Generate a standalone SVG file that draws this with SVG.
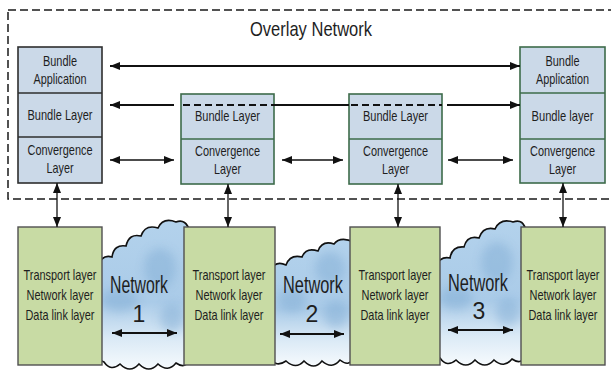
<svg xmlns="http://www.w3.org/2000/svg" width="611" height="371" viewBox="0 0 611 371">
  <style>
    .txt { font-family: "Liberation Sans", Arial, sans-serif; fill: #1e1e1e; text-anchor: middle; }
    .s13 { font-size: 15px; }
    .net { font-size: 23px; }
    .title { font-size: 21px; }
    .bundle { fill: #cbd9e8; stroke: #3d6b4a; stroke-width: 1.6; }
    .bundle.dark { stroke: #2e2e2e; }
    .sep { stroke: #3d6b4a; stroke-width: 1.6; }
    .sep.dark { stroke: #2e2e2e; }
    .host { fill: #c8dba4; stroke: #505050; stroke-width: 1.4; }
    .cloud { fill: url(#cloudFill); stroke: #111; stroke-width: 1.6; }
    .thick { stroke: #111; stroke-width: 2; fill: none; }
    .thin { stroke: #111; stroke-width: 1.3; fill: none; }
    .dash { stroke: #111; stroke-width: 2; stroke-dasharray: 7 4; fill: none; }
  </style>
  <defs>
    <marker id="head" viewBox="0 0 10 8" refX="10" refY="4" markerWidth="10" markerHeight="8" markerUnits="userSpaceOnUse" orient="auto-start-reverse">
      <path d="M0,0 L10,4 L0,8 z" fill="#111"/>
    </marker>
    <linearGradient id="cloudFill" x1="0" y1="0" x2="0" y2="1">
      <stop offset="0" stop-color="#b3d2ec"/>
      <stop offset="0.55" stop-color="#aacbe8"/>
      <stop offset="0.8" stop-color="#dbeaf6"/>
      <stop offset="1" stop-color="#f6fafd"/>
    </linearGradient>
    <filter id="soft" x="-50%" y="-50%" width="200%" height="200%">
      <feGaussianBlur stdDeviation="5"/>
    </filter>
    <clipPath id="c1"><path id="cloud1" d="M 98 266 Q 102 254 112 257 Q 114 244 126 246 Q 129 233 141 236 Q 145 224 158 228 Q 163 217 176 222 Q 186 218 190 232 L 190 358 Q 186 370 176 363 Q 168 373 158 364 Q 149 374 139 364 Q 130 374 120 364 Q 111 372 104 362 Q 96 360 98 350 Z"/></clipPath>
    <clipPath id="c2"><path id="cloud2" d="M 270 270 Q 276 260 286 265 Q 290 254 302 257 Q 306 247 318 251 Q 322 240 334 244 Q 340 236 354 242 L 354 356 Q 350 368 340 360 Q 332 370 322 361 Q 314 371 304 361 Q 296 370 286 361 Q 276 368 270 358 Z"/></clipPath>
    <clipPath id="c3"><path id="cloud3" d="M 436 266 Q 440 256 450 258 Q 452 246 464 247 Q 467 235 479 238 Q 483 226 495 229 Q 500 218 513 222 Q 524 218 526 232 L 526 354 Q 522 366 512 359 Q 504 369 494 360 Q 485 370 475 360 Q 466 370 456 360 Q 447 368 440 358 Q 434 356 436 346 Z"/></clipPath>
  </defs>

  <rect width="611" height="371" fill="#ffffff"/>

  <!-- network clouds -->
  <g id="network1">
    <use href="#cloud1" class="cloud"/>
    <g clip-path="url(#c1)" filter="url(#soft)" fill="#7eaad3" opacity="0.45">
      <ellipse cx="160" cy="268" rx="16" ry="20"/>
      <ellipse cx="120" cy="300" rx="18" ry="12"/>
      <ellipse cx="172" cy="318" rx="12" ry="14"/>
    </g>
    <text class="txt net" x="139" y="293" textLength="58" lengthAdjust="spacingAndGlyphs">Network</text>
    <text class="txt net" x="139" y="322">1</text>
  </g>
  <g id="network2">
    <use href="#cloud2" class="cloud"/>
    <g clip-path="url(#c2)" filter="url(#soft)" fill="#7eaad3" opacity="0.45">
      <ellipse cx="330" cy="268" rx="15" ry="16"/>
      <ellipse cx="292" cy="300" rx="14" ry="12"/>
      <ellipse cx="336" cy="314" rx="12" ry="14"/>
    </g>
    <text class="txt net" x="313" y="293" textLength="60" lengthAdjust="spacingAndGlyphs">Network</text>
    <text class="txt net" x="312" y="322">2</text>
  </g>
  <g id="network3">
    <use href="#cloud3" class="cloud"/>
    <g clip-path="url(#c3)" filter="url(#soft)" fill="#7eaad3" opacity="0.45">
      <ellipse cx="497" cy="262" rx="16" ry="20"/>
      <ellipse cx="456" cy="298" rx="16" ry="12"/>
      <ellipse cx="508" cy="312" rx="12" ry="14"/>
    </g>
    <text class="txt net" x="478" y="291" textLength="60" lengthAdjust="spacingAndGlyphs">Network</text>
    <text class="txt net" x="479" y="319">3</text>
  </g>

  <!-- underlay hosts -->
  <g id="host1">
    <rect class="host" x="18" y="227" width="84" height="138"/>
    <text class="txt s13" x="60" y="280" textLength="73" lengthAdjust="spacingAndGlyphs">Transport layer</text>
    <text class="txt s13" x="60" y="300" textLength="67" lengthAdjust="spacingAndGlyphs">Network layer</text>
    <text class="txt s13" x="60" y="320" textLength="69" lengthAdjust="spacingAndGlyphs">Data link layer</text>
  </g>
  <g id="host2">
    <rect class="host" x="184" y="227" width="91" height="138"/>
    <text class="txt s13" x="229" y="280" textLength="73" lengthAdjust="spacingAndGlyphs">Transport layer</text>
    <text class="txt s13" x="229" y="300" textLength="67" lengthAdjust="spacingAndGlyphs">Network layer</text>
    <text class="txt s13" x="229" y="320" textLength="69" lengthAdjust="spacingAndGlyphs">Data link layer</text>
  </g>
  <g id="host3">
    <rect class="host" x="350" y="227" width="90" height="138"/>
    <text class="txt s13" x="395" y="280" textLength="73" lengthAdjust="spacingAndGlyphs">Transport layer</text>
    <text class="txt s13" x="395" y="300" textLength="67" lengthAdjust="spacingAndGlyphs">Network layer</text>
    <text class="txt s13" x="395" y="320" textLength="69" lengthAdjust="spacingAndGlyphs">Data link layer</text>
  </g>
  <g id="host4">
    <rect class="host" x="521" y="227" width="84" height="138"/>
    <text class="txt s13" x="563" y="280" textLength="73" lengthAdjust="spacingAndGlyphs">Transport layer</text>
    <text class="txt s13" x="563" y="300" textLength="67" lengthAdjust="spacingAndGlyphs">Network layer</text>
    <text class="txt s13" x="563" y="320" textLength="69" lengthAdjust="spacingAndGlyphs">Data link layer</text>
  </g>

  <!-- overlay boundary -->
  <g id="overlay">
    <rect x="8" y="10" width="620" height="189" fill="none" stroke="#1a1a1a" stroke-width="1.5" stroke-dasharray="8 4"/>
    <text class="txt title" x="311" y="36" textLength="122" lengthAdjust="spacingAndGlyphs">Overlay Network</text>
  </g>

  <!-- bundle nodes -->
  <g id="source">
    <rect class="bundle dark" x="18" y="47" width="84" height="136"/>
    <line class="sep dark" x1="18" y1="93" x2="102" y2="93"/>
    <line class="sep dark" x1="18" y1="137" x2="102" y2="137"/>
    <text class="txt s13" x="60" y="66" textLength="34" lengthAdjust="spacingAndGlyphs">Bundle</text>
    <text class="txt s13" x="60" y="84" textLength="53" lengthAdjust="spacingAndGlyphs">Application</text>
    <text class="txt s13" x="60" y="120" textLength="65" lengthAdjust="spacingAndGlyphs">Bundle Layer</text>
    <text class="txt s13" x="60" y="155" textLength="65" lengthAdjust="spacingAndGlyphs">Convergence</text>
    <text class="txt s13" x="60" y="173" textLength="27" lengthAdjust="spacingAndGlyphs">Layer</text>
  </g>
  <g id="router1">
    <rect class="bundle" x="181" y="94" width="93" height="90"/>
    <line class="sep" x1="181" y1="139" x2="274" y2="139"/>
    <text class="txt s13" x="227.5" y="121" textLength="65" lengthAdjust="spacingAndGlyphs">Bundle Layer</text>
    <text class="txt s13" x="227.5" y="156" textLength="65" lengthAdjust="spacingAndGlyphs">Convergence</text>
    <text class="txt s13" x="227.5" y="174" textLength="27" lengthAdjust="spacingAndGlyphs">Layer</text>
  </g>
  <g id="router2">
    <rect class="bundle" x="349" y="94" width="93" height="90"/>
    <line class="sep" x1="349" y1="139" x2="442" y2="139"/>
    <text class="txt s13" x="395.5" y="121" textLength="65" lengthAdjust="spacingAndGlyphs">Bundle Layer</text>
    <text class="txt s13" x="395.5" y="156" textLength="65" lengthAdjust="spacingAndGlyphs">Convergence</text>
    <text class="txt s13" x="395.5" y="174" textLength="27" lengthAdjust="spacingAndGlyphs">Layer</text>
  </g>
  <g id="destination">
    <rect class="bundle" x="520" y="47" width="85" height="136"/>
    <line class="sep" x1="520" y1="93" x2="605" y2="93"/>
    <line class="sep" x1="520" y1="139" x2="605" y2="139"/>
    <text class="txt s13" x="562.5" y="66" textLength="34" lengthAdjust="spacingAndGlyphs">Bundle</text>
    <text class="txt s13" x="562.5" y="84" textLength="53" lengthAdjust="spacingAndGlyphs">Application</text>
    <text class="txt s13" x="562.5" y="121" textLength="62" lengthAdjust="spacingAndGlyphs">Bundle layer</text>
    <text class="txt s13" x="562.5" y="156" textLength="65" lengthAdjust="spacingAndGlyphs">Convergence</text>
    <text class="txt s13" x="562.5" y="174" textLength="27" lengthAdjust="spacingAndGlyphs">Layer</text>
  </g>

  <!-- connectors -->
  <g id="connectors">
    <!-- application to application -->
    <line class="thick" x1="110" y1="66" x2="520" y2="66" marker-start="url(#head)" marker-end="url(#head)"/>
    <!-- bundle layer path, passing through the routers -->
    <line class="thick" x1="110" y1="105" x2="174" y2="105" marker-start="url(#head)"/>
    <line class="dash" x1="183" y1="105" x2="274" y2="105"/>
    <line class="thick" x1="274" y1="105" x2="349" y2="105"/>
    <line class="dash" x1="351" y1="105" x2="442" y2="105"/>
    <line class="thick" x1="447" y1="105" x2="520" y2="105" marker-end="url(#head)"/>
    <!-- convergence layer hops -->
    <line class="thin" x1="110" y1="160" x2="174" y2="160" marker-start="url(#head)" marker-end="url(#head)"/>
    <line class="thin" x1="282" y1="160" x2="343" y2="160" marker-start="url(#head)" marker-end="url(#head)"/>
    <line class="thin" x1="448" y1="160" x2="513" y2="160" marker-start="url(#head)" marker-end="url(#head)"/>
    <!-- overlay to underlay -->
    <line class="thin" x1="57" y1="183" x2="57" y2="227" marker-start="url(#head)" marker-end="url(#head)"/>
    <line class="thin" x1="228" y1="184" x2="228" y2="227" marker-start="url(#head)" marker-end="url(#head)"/>
    <line class="thin" x1="398" y1="184" x2="398" y2="227" marker-start="url(#head)" marker-end="url(#head)"/>
    <line class="thin" x1="563" y1="183" x2="563" y2="227" marker-start="url(#head)" marker-end="url(#head)"/>
    <!-- links across each network -->
    <line class="thick" x1="112" y1="333" x2="177" y2="333" marker-start="url(#head)" marker-end="url(#head)"/>
    <line class="thick" x1="280" y1="334" x2="344" y2="334" marker-start="url(#head)" marker-end="url(#head)"/>
    <line class="thick" x1="448" y1="330" x2="513" y2="330" marker-start="url(#head)" marker-end="url(#head)"/>
  </g>
</svg>
